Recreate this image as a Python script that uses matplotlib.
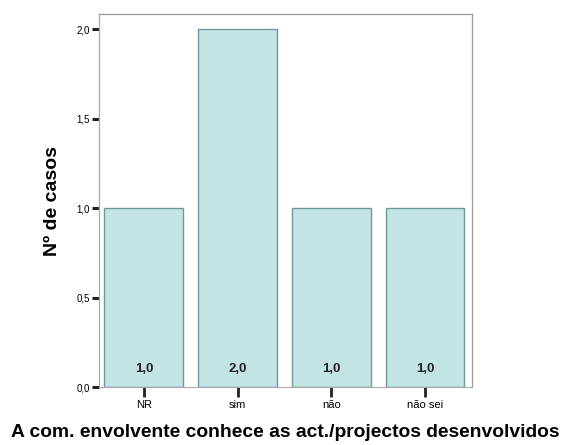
import matplotlib
matplotlib.use("Agg")
import matplotlib.pyplot as plt

categories = ["NR", "sim", "não", "não sei"]
counts = [1.0, 2.0, 1.0, 1.0]
y_ticks = [0.0, 0.5, 1.0, 1.5, 2.0]
y_tick_labels = ["0,0", "0,5", "1,0", "1,5", "2,0"]

plt.rcParams["font.family"] = ["Liberation Sans", "DejaVu Sans"]

fig = plt.figure(figsize=(5.65, 4.45), dpi=100)
ax = fig.add_axes([0.175, 0.1303, 0.66, 0.8382])

x = list(range(len(categories)))
bars = ax.bar(x, counts, width=0.84, color="#c2e5e3", edgecolor="#6f9a98",
              linewidth=1.0)

for xi, v in zip(x, counts):
    ax.text(xi, 0.1, f"{v:.1f}".replace(".", ","), ha="center", va="center",
            fontsize=9.5, fontweight="bold", color="#222222")

ax.set_xlim(-0.48, 3.5)
ax.set_ylim(0, 2.084)
ax.set_yticks(y_ticks)
ax.set_yticklabels(y_tick_labels, fontsize=7)
ax.set_xticks(x)
ax.set_xticklabels(categories, fontsize=8)

ax.tick_params(axis="y", direction="out", length=5, width=2.2, color="#222222", pad=1.5)
ax.tick_params(axis="x", direction="out", length=7, width=2.0, color="#222222", pad=2)

for side in ["top", "right"]:
    ax.spines[side].set_color("#999999")
    ax.spines[side].set_linewidth(0.9)
ax.spines["left"].set_color("#aaaaaa")
ax.spines["left"].set_linestyle((0, (1, 1)))
ax.spines["left"].set_linewidth(0.9)
ax.spines["bottom"].set_color("#aaaaaa")
ax.spines["bottom"].set_linewidth(0.8)

ax.set_ylabel("Nº de casos", fontsize=14, fontweight="bold", labelpad=11)
ax.xaxis.set_label_coords(0.48, -0.1)
ax.set_xlabel("A com. envolvente conhece as act./projectos desenvolvidos",
              fontsize=13.9, fontweight="bold")

fig.savefig("out.png", dpi=100)
